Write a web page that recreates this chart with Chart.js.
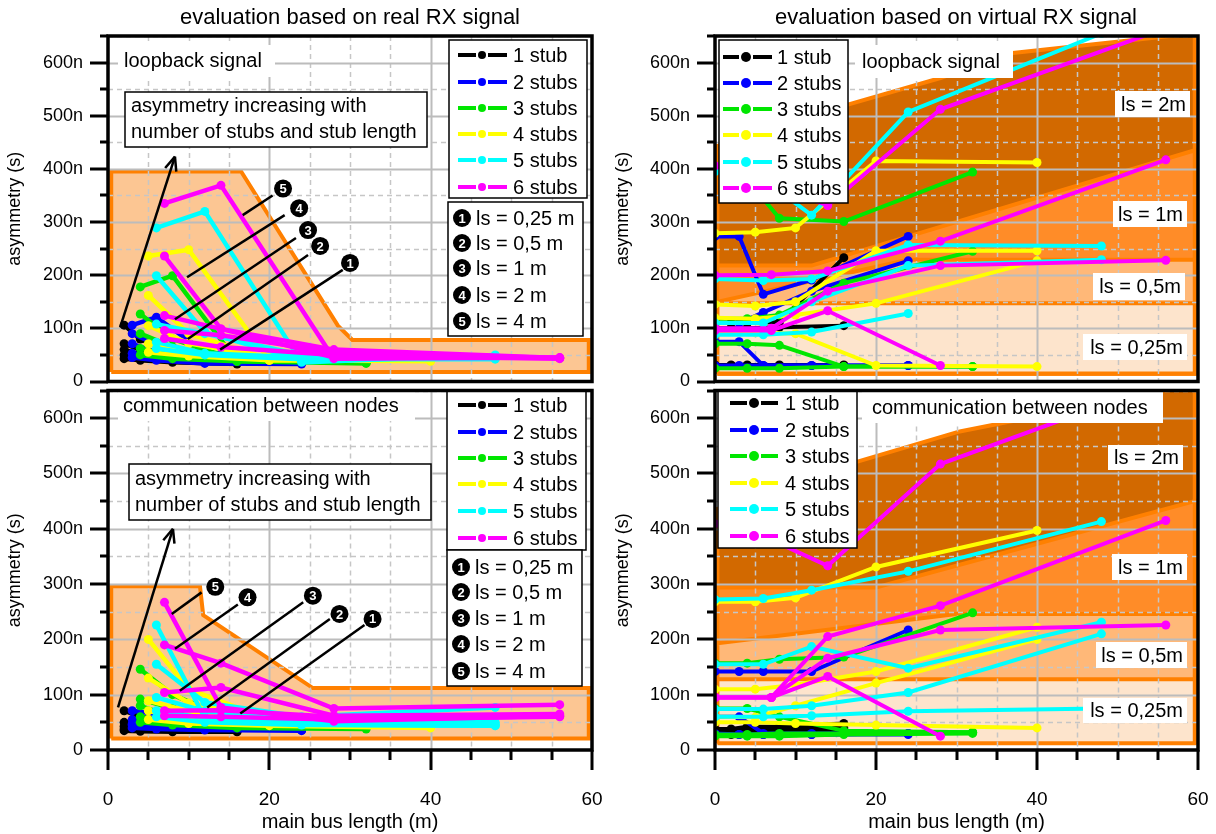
<!DOCTYPE html>
<html>
<head>
<meta charset="utf-8">
<script src="https://cdn.jsdelivr.net/npm/chart.js@4.4.1/dist/chart.umd.min.js"></script>
<style>
    body { margin: 0; background: #fff; width: 1216px; height: 834px; position: relative; overflow: hidden; }
    canvas { position: absolute; }
</style>
</head>
<body>
<canvas id="tl" width="608" height="386" style="left:0;top:0"></canvas>
<canvas id="bl" width="608" height="448" style="left:0;top:386px"></canvas>
<canvas id="tr" width="608" height="386" style="left:608px;top:0"></canvas>
<canvas id="br" width="608" height="448" style="left:608px;top:386px"></canvas>
<script>
var stubNames = ['1 stub', '2 stubs', '3 stubs', '4 stubs', '5 stubs', '6 stubs'];
var stubColors = ['#000000', '#0000ff', '#00e600', '#ffff00', '#00ffff', '#ff00ff'];
var lsNames = ['ls = 0,25 m', 'ls = 0,5 m', 'ls = 1 m', 'ls = 2 m', 'ls = 4 m'];
var yTicks = [0, 100, 200, 300, 400, 500, 600];
var xTicks = [0, 20, 40, 60];

// main bus length per stub count
var busLenReal = [[2, 4, 8, 16], [3, 6, 12, 24], [4, 8, 16, 32], [5, 10, 20, 40], [6, 12, 24, 48], [7, 14, 28, 56]];
var busLenVirtual = [[0, 2, 4, 8, 16], [0, 3, 6, 12, 24], [0, 4, 8, 16, 32], [0, 5, 10, 20, 40], [0, 6, 12, 24, 48], [0, 7, 14, 28, 56]];

// asymmetry in ns, rows = 1..6 stubs
var loopRealLs025 = [[43, 40, 36, 33], [45, 40, 34, 33], [50, 43, 38, 34], [55, 48, 40, 38], [62, 50, 42, 42], [81, 65, 50, 43]];
var loopRealLs05 = [[50, 43, 38, 35], [53, 45, 38, 35], [62, 50, 40, 36], [71, 55, 42, 40], [74, 53, 45, 45], [96, 87, 55, 44]];
var loopRealLs1 = [[60, 50, 42, 38], [71, 55, 40, 36], [90, 65, 42, 36], [105, 72, 45, 42], [108, 90, 50, 46], [124, 99, 60, 44]];
var loopRealLs2 = [[71, 60, 45, 40], [90, 70, 45, 38], [127, 80, 40, 36], [162, 90, 42, 42], [199, 93, 40, 48], [236, 99, 45, 44]];
var loopRealLs4 = [[106, 80, 55, 42], [106, 121, 55, 40], [178, 199, 38, 36], [236, 248, 40, 42], [289, 320, 36, 50], [335, 369, 43, 45]];

var commRealLs025 = [[35, 34, 33, 33], [40, 38, 36, 35], [50, 45, 40, 38], [55, 48, 44, 40], [60, 50, 45, 44], [62, 60, 55, 60]];
var commRealLs05 = [[38, 36, 35, 34], [45, 40, 38, 36], [60, 50, 45, 40], [71, 55, 48, 42], [71, 58, 50, 46], [71, 72, 60, 62]];
var commRealLs1 = [[43, 40, 38, 36], [47, 44, 40, 37], [80, 60, 48, 42], [89, 70, 50, 45], [95, 70, 55, 50], [104, 113, 62, 65]];
var commRealLs2 = [[50, 45, 40, 38], [55, 48, 42, 38], [92, 75, 50, 45], [130, 85, 55, 48], [155, 86, 60, 77], [190, 157, 75, 82]];
var commRealLs4 = [[71, 60, 50, 40], [71, 65, 50, 40], [146, 100, 50, 45], [200, 110, 55, 48], [226, 58, 46, 44], [267, 77, 52, 62]];

var loopVirtLs025 = [[30, 30, 30, 30, 30], [30, 30, 30, 30, 30], [25, 25, 25, 28, 28], [92, 92, 90, 30, 28], [88, 88, 93, 128, null], [96, 96, 133, 30, null]];
var loopVirtLs05 = [[31, 31, 31, 31, 31], [75, 75, 30, 30, 30], [71, 71, 68, 28, 28], [120, 118, 125, 147, 227], [110, 110, 150, 218, 229], [100, 100, 170, 218, 228]];
var loopVirtLs1 = [[100, 100, 100, 102, 105], [110, 110, 130, 170, 227], [118, 118, 125, 185, 245], [145, 142, 150, 246, 246], [193, 190, 193, 257, 255], [200, 201, 208, 264, 417]];
var loopVirtLs2 = [[110, 110, 110, 112, 233], [273, 273, 164, 191, 273], [400, 380, 307, 301, 394], [279, 281, 289, 415, 412], [395, 380, 313, 507, 655], [406, 370, 331, 512, 665]];

var commVirtLs025 = [[28, 28, 30, 32, 36], [28, 28, 28, 28, 28], [25, 25, 25, 28, 30], [50, 50, 48, 45, 40], [60, 60, 62, 70, 75], [95, 95, 133, 25, null]];
var commVirtLs05 = [[30, 30, 32, 34, 40], [30, 28, 28, 28, 30], [28, 28, 30, 30, 32], [60, 59, 80, 121, 200], [74, 74, 80, 104, 210], [95, 95, 166, 217, 226]];
var commVirtLs1 = [[34, 34, 36, 38, 45], [60, 60, 30, 30, 30], [75, 75, 60, 35, 32], [110, 110, 118, 142, 222], [155, 155, 187, 148, 231], [95, 95, 205, 261, 415]];
var commVirtLs2 = [[38, 38, 42, 42, 48], [142, 142, 142, 142, 217], [157, 157, 164, 168, 248], [268, 268, 275, 331, 397], [272, 274, 289, 323, 413], [409, 380, 333, 517, 665]];

// shaded regions (outline points)
var realLoopBandX = [0.4, 0.4, 16.5, 28.5, 30.3, 59.6, 59.6, 0.4];
var realLoopBandY = [18, 395, 395, 105, 78, 78, 18, 18];
var realCommBandX = [0.4, 0.4, 11.4, 11.8, 25.4, 59.6, 59.6, 0.4];
var realCommBandY = [21, 296, 296, 244, 112, 112, 21, 21];

var virtLoopBand2X = [0.3, 0.3, 16.5, 28, 37, 59.6, 59.6, 0.3];
var virtLoopBand2Y = [15, 443, 521, 571, 618, 655, 15, 15];
var virtLoopBand1X = [0.3, 0.3, 12, 59.6, 59.6, 0.3];
var virtLoopBand1Y = [15, 218, 218, 435, 15, 15];
var virtLoopBand05X = [0.3, 0.3, 24, 59.6, 59.6, 0.3];
var virtLoopBand05Y = [15, 150, 229, 229, 15, 15];
var virtLoopBand025X = [0.3, 0.3, 59.6, 59.6, 0.3];
var virtLoopBand025Y = [15, 147, 147, 15, 15];

var virtCommBand2X = [0.3, 0.3, 17.6, 30.4, 59.6, 59.6, 0.3];
var virtCommBand2Y = [15, 436, 521, 576, 660, 15, 15];
var virtCommBand1X = [0.3, 0.3, 20, 59.6, 59.6, 0.3];
var virtCommBand1Y = [15, 294, 294, 450, 15, 15];
var virtCommBand05X = [0.3, 0.3, 30, 59.6, 59.6, 0.3];
var virtCommBand05Y = [15, 193, 246, 246, 15, 15];
var virtCommBand025X = [0.3, 0.3, 59.6, 59.6, 0.3];
var virtCommBand025Y = [12, 128, 128, 12, 12];

var FONT = '"Liberation Sans", Arial, sans-serif';
var ORANGE = '#ff8000';

function buildSeries(xs, sets, lw, pr) {
    var out = [];
    sets.forEach(function (set) {
        set.forEach(function (vals, i) {
            out.push({
                data: xs[i].map(function (x, k) { return { x: x, y: vals[k] }; }),
                borderColor: stubColors[i],
                backgroundColor: stubColors[i],
                pointBackgroundColor: stubColors[i],
                pointBorderWidth: 0,
                borderWidth: lw,
                pointRadius: pr,
                order: 10 - i,
                fill: false,
                tension: 0
            });
        });
    });
    return out;
}

function buildBands(list) {
    return list.map(function (b, k) {
        return {
            isBand: true,
            data: b[0].map(function (x, i) { return { x: x, y: b[1][i] }; }),
            fill: 'shape',
            backgroundColor: b[2],
            borderColor: ORANGE,
            borderWidth: 4,
            pointRadius: 0,
            order: 100 - k,
            tension: 0
        };
    });
}

function drawGrid(chart) {
    var ctx = chart.ctx, a = chart.chartArea, sx = chart.scales.x, sy = chart.scales.y;
    ctx.save();
    ctx.beginPath();
    ctx.rect(a.left, a.top, a.right - a.left, a.bottom - a.top);
    ctx.clip();
    var v, p, major;
    for (v = 5; v < 60; v += 5) {
        p = Math.round(sx.getPixelForValue(v)) + 0.5;
        major = v % 20 === 0;
        ctx.setLineDash(major ? [] : [5, 4]);
        ctx.strokeStyle = major ? '#bcbcbc' : '#c6c6c6';
        ctx.lineWidth = major ? 2 : 1.5;
        ctx.beginPath(); ctx.moveTo(p, a.top); ctx.lineTo(p, a.bottom); ctx.stroke();
    }
    for (v = 50; v <= 650; v += 50) {
        p = Math.round(sy.getPixelForValue(v)) + 0.5;
        major = v % 100 === 0;
        ctx.setLineDash(major ? [] : [5, 4]);
        ctx.strokeStyle = major ? '#bcbcbc' : '#c6c6c6';
        ctx.lineWidth = major ? 2 : 1.5;
        ctx.beginPath(); ctx.moveTo(a.left, p); ctx.lineTo(a.right, p); ctx.stroke();
    }
    ctx.restore();
}

function drawFrame(chart, withX) {
    var ctx = chart.ctx, a = chart.chartArea, sx = chart.scales.x, sy = chart.scales.y;
    ctx.save();
    ctx.strokeStyle = '#000';
    ctx.lineWidth = 3;
    var v, p, len;
    for (v = 0; v <= 650; v += 50) {
        p = Math.round(sy.getPixelForValue(v));
        len = v % 100 === 0 ? 18 : 8;
        ctx.beginPath(); ctx.moveTo(a.left - len, p); ctx.lineTo(a.left, p); ctx.stroke();
    }
    if (withX) {
        for (v = 0; v <= 60; v += 5) {
            p = Math.round(sx.getPixelForValue(v));
            len = v % 20 === 0 ? 20 : 10;
            ctx.beginPath(); ctx.moveTo(p, a.bottom); ctx.lineTo(p, a.bottom + len); ctx.stroke();
        }
    }
    ctx.lineWidth = 3.5;
    ctx.strokeRect(a.left, a.top, a.right - a.left, a.bottom - a.top);
    ctx.restore();
}

// helpers working in page coordinates
function textAt(ctx, s, x, y, size, align) {
    ctx.font = size + 'px ' + FONT;
    ctx.fillStyle = '#000';
    ctx.textAlign = align || 'left';
    ctx.textBaseline = 'middle';
    ctx.fillText(s, x, y);
}

function whiteBox(ctx, x0, y0, x1, y1, border) {
    ctx.fillStyle = '#fff';
    ctx.fillRect(x0, y0, x1 - x0, y1 - y0);
    if (border) {
        ctx.strokeStyle = '#000';
        ctx.lineWidth = 1.5;
        ctx.strokeRect(x0, y0, x1 - x0, y1 - y0);
    }
}

function numberBadge(ctx, n, x, y) {
    ctx.fillStyle = '#000';
    ctx.beginPath(); ctx.arc(x, y, 9, 0, Math.PI * 2); ctx.fill();
    ctx.font = 'bold 13px ' + FONT;
    ctx.fillStyle = '#fff';
    ctx.textAlign = 'center';
    ctx.textBaseline = 'middle';
    ctx.fillText(String(n), x, y + 1);
}

function seg(ctx, p, q, w) {
    ctx.strokeStyle = '#000';
    ctx.lineWidth = w;
    ctx.beginPath(); ctx.moveTo(p[0], p[1]); ctx.lineTo(q[0], q[1]); ctx.stroke();
}

function arrow(ctx, p, q) {
    seg(ctx, p, q, 2.5);
    var ang = Math.atan2(q[1] - p[1], q[0] - p[0]);
    [-0.4, 0.4].forEach(function (d) {
        seg(ctx, q, [q[0] - 15 * Math.cos(ang + d), q[1] - 15 * Math.sin(ang + d)], 2.5);
    });
}

function stubLegend(ctx, box, rows, x0, x1, xm, tx, size, lw, r) {
    whiteBox(ctx, box[0], box[1], box[2], box[3], true);
    rows.forEach(function (y, i) {
        ctx.strokeStyle = stubColors[i];
        ctx.lineWidth = lw;
        ctx.beginPath(); ctx.moveTo(x0, y); ctx.lineTo(xm - r - 2, y); ctx.moveTo(xm + r + 2, y); ctx.lineTo(x1, y); ctx.stroke();
        ctx.fillStyle = stubColors[i];
        ctx.beginPath(); ctx.arc(xm, y, r, 0, Math.PI * 2); ctx.fill();
        textAt(ctx, stubNames[i], tx, y + 1, size);
    });
}

function lsLegend(ctx, box, rows, bx, tx) {
    whiteBox(ctx, box[0], box[1], box[2], box[3], true);
    rows.forEach(function (y, i) {
        numberBadge(ctx, i + 1, bx, y);
        textAt(ctx, lsNames[i], tx, y + 1, 20);
    });
}

function decoPlugin(ox, oy, withX, draw) {
    return {
        id: 'deco',
        beforeDatasetsDraw: function (chart) { chart.$gridDone = false; },
        beforeDatasetDraw: function (chart, args) {
            if (chart.$gridDone || chart.data.datasets[args.index].isBand) return;
            drawGrid(chart);
            chart.$gridDone = true;
        },
        afterDatasetsDraw: function (chart) {
            var ctx = chart.ctx, sx = chart.scales.x, sy = chart.scales.y;
            var P = function (xv, yv) { return [sx.getPixelForValue(xv) + ox, sy.getPixelForValue(yv) + oy]; };
            ctx.save();
            ctx.translate(-ox, -oy);
            draw(ctx, P);
            ctx.restore();
            drawFrame(chart, withX);
        }
    };
}

function makeChart(id, datasets, bottom, yWidth, padding, plugin) {
    var xScale = { type: 'linear', min: 0, max: 60, display: false };
    if (bottom) {
        xScale = {
            type: 'linear', min: 0, max: 60,
            ticks: { stepSize: 20, autoSkip: false, padding: 20, color: '#000', font: { size: 19, family: FONT } },
            grid: { display: false, drawTicks: true, tickLength: 18 },
            border: { display: false },
            title: { display: true, text: 'main bus length (m)', color: '#000', font: { size: 20, family: FONT }, padding: { top: 0, bottom: 0 } },
            afterFit: function (s) { s.height = 84; s.paddingLeft = 0; s.paddingRight = 0; }
        };
    }
    return new Chart(document.getElementById(id).getContext('2d'), {
        type: 'line',
        data: { datasets: datasets },
        options: {
            responsive: false,
            animation: false,
            events: [],
            layout: { padding: padding },
            plugins: { legend: { display: false }, tooltip: { enabled: false } },
            scales: {
                x: xScale,
                y: {
                    type: 'linear', min: 0, max: 650,
                    ticks: {
                        stepSize: 50, autoSkip: false, includeBounds: false, padding: 7, color: '#000',
                        font: { size: 18, family: FONT },
                        callback: function (v) {
                            if (yTicks.indexOf(v) < 0) return '';
                            return v === 0 ? '0' : v + 'n';
                        }
                    },
                    grid: { display: false, drawTicks: true, tickLength: 18 },
                    border: { display: false },
                    title: { display: true, text: 'asymmetry (s)', color: '#000', font: { size: 18, family: FONT }, padding: { top: 4, bottom: 0 } },
                    afterFit: function (s) { s.width = yWidth; s.paddingTop = 0; s.paddingBottom = 0; }
                }
            }
        },
        plugins: [plugin]
    });
}

var PEACH = '#fcc693', DARK = '#d26900', MID = '#ff8c28', LIGHT = '#ffb878', PALE = '#fde4cc';

// top left: loopback, real RX
makeChart('tl',
    buildBands([[realLoopBandX, realLoopBandY, PEACH]]).concat(
        buildSeries(busLenReal, [loopRealLs025, loopRealLs05, loopRealLs1, loopRealLs2, loopRealLs4], 4.5, 4.5)),
    false, 108, { top: 36, right: 16, bottom: 1, left: 0 },
    decoPlugin(0, 0, false, function (ctx, P) {
        textAt(ctx, 'evaluation based on real RX signal', 350, 18, 22, 'center');
        whiteBox(ctx, 118, 45, 275, 77, false);
        textAt(ctx, 'loopback signal', 124, 61, 20);
        arrow(ctx, P(1.5, 102), P(8.3, 423));
        whiteBox(ctx, 125, 92, 427, 147, true);
        textAt(ctx, 'asymmetry increasing with', 131, 106, 20);
        textAt(ctx, 'number of stubs and stub length', 131, 132, 20);
        seg(ctx, P(20.4, 350), P(16.7, 313), 2.5); numberBadge(ctx, 5, P(21.7, 363)[0], P(21.7, 363)[1]);
        seg(ctx, P(21.9, 313), P(9.8, 196), 2.5); numberBadge(ctx, 4, P(23.7, 326)[0], P(23.7, 326)[1]);
        seg(ctx, P(23.3, 270), P(8.3, 117), 2.5); numberBadge(ctx, 3, P(24.8, 285)[0], P(24.8, 285)[1]);
        seg(ctx, P(24.8, 238), P(9.9, 80), 2.5); numberBadge(ctx, 2, P(26.3, 255)[0], P(26.3, 255)[1]);
        seg(ctx, P(29.1, 210), P(13.9, 60), 2.5); numberBadge(ctx, 1, P(30, 223)[0], P(30, 223)[1]);
        stubLegend(ctx, [449, 40, 587, 198], [55, 82, 108, 134, 160, 187], 458, 507, 482, 513, 20, 4, 4);
        lsLegend(ctx, [448, 202, 583, 336], [218, 243, 268, 295, 321], 462, 476);
    }));

// bottom left: communication, real RX
makeChart('bl',
    buildBands([[realCommBandX, realCommBandY, PEACH]]).concat(
        buildSeries(busLenReal, [commRealLs025, commRealLs05, commRealLs1, commRealLs2, commRealLs4], 4.5, 4.5)),
    true, 108, { top: 1, right: 16, bottom: 0, left: 0 },
    decoPlugin(0, 386, true, function (ctx, P) {
        whiteBox(ctx, 118, 391, 415, 421, false);
        textAt(ctx, 'communication between nodes', 123, 406, 20);
        arrow(ctx, P(1.24, 77), P(8.05, 400));
        whiteBox(ctx, 129, 464, 431, 520, true);
        textAt(ctx, 'asymmetry increasing with', 135, 479, 20);
        textAt(ctx, 'number of stubs and stub length', 135, 505, 20);
        seg(ctx, P(11.6, 285), P(7.9, 246), 2.5); numberBadge(ctx, 5, P(13.3, 295)[0], P(13.3, 295)[1]);
        seg(ctx, P(16.1, 263), P(8.3, 183), 2.5); numberBadge(ctx, 4, P(17.3, 276)[0], P(17.3, 276)[1]);
        seg(ctx, P(24.2, 267), P(8.9, 107), 2.5); numberBadge(ctx, 3, P(25.4, 279)[0], P(25.4, 279)[1]);
        seg(ctx, P(27.5, 237), P(12.3, 77), 2.5); numberBadge(ctx, 2, P(28.7, 246)[0], P(28.7, 246)[1]);
        seg(ctx, P(31.8, 226), P(16.4, 66), 2.5); numberBadge(ctx, 1, P(32.8, 237)[0], P(32.8, 237)[1]);
        stubLegend(ctx, [447, 390, 586, 550], [405, 432, 458, 484, 511, 538], 458, 507, 482, 513, 20, 4, 4);
        lsLegend(ctx, [447, 550, 582, 686], [567, 592, 618, 644, 671], 461, 475);
    }));

function lsBoxes(ctx, boxes) {
    var names = ['ls = 2m', 'ls = 1m', 'ls = 0,5m', 'ls = 0,25m'];
    boxes.forEach(function (b, i) {
        whiteBox(ctx, b[0], b[1], b[2], b[3], false);
        textAt(ctx, names[i], b[2] - 4, (b[1] + b[3]) / 2 + 1, 20, 'right');
    });
}

// top right: loopback, virtual RX
makeChart('tr',
    buildBands([[virtLoopBand2X, virtLoopBand2Y, DARK], [virtLoopBand1X, virtLoopBand1Y, MID],
        [virtLoopBand05X, virtLoopBand05Y, LIGHT], [virtLoopBand025X, virtLoopBand025Y, PALE]]).concat(
        buildSeries(busLenVirtual, [loopVirtLs025, loopVirtLs05, loopVirtLs1, loopVirtLs2], 4, 4.5)),
    false, 107, { top: 36, right: 18, bottom: 1, left: 0 },
    decoPlugin(608, 0, false, function (ctx, P) {
        textAt(ctx, 'evaluation based on virtual RX signal', 956, 18, 22, 'center');
        whiteBox(ctx, 855, 45, 1013, 78, false);
        textAt(ctx, 'loopback signal', 862, 62, 20);
        lsBoxes(ctx, [[1115, 91, 1190, 117], [1113, 201, 1187, 227], [1093, 273, 1185, 300], [1083, 334, 1187, 360]]);
        stubLegend(ctx, [719, 40, 848, 203], [57, 83, 109, 135, 162, 188], 723, 772, 746, 777, 20, 4, 5);
    }));

// bottom right: communication, virtual RX
makeChart('br',
    buildBands([[virtCommBand2X, virtCommBand2Y, DARK], [virtCommBand1X, virtCommBand1Y, MID],
        [virtCommBand05X, virtCommBand05Y, LIGHT], [virtCommBand025X, virtCommBand025Y, PALE]]).concat(
        buildSeries(busLenVirtual, [commVirtLs025, commVirtLs05, commVirtLs1, commVirtLs2], 4, 4.5)),
    true, 107, { top: 1, right: 18, bottom: 0, left: 0 },
    decoPlugin(608, 386, true, function (ctx, P) {
        whiteBox(ctx, 862, 391, 1163, 423, false);
        textAt(ctx, 'communication between nodes', 872, 408, 20);
        lsBoxes(ctx, [[1108, 445, 1183, 470], [1112, 554, 1187, 580], [1096, 642, 1187, 668], [1083, 698, 1187, 723]]);
        stubLegend(ctx, [718, 390, 857, 548], [403, 430, 456, 483, 509, 536], 730, 778, 754, 785, 20, 4, 5);
    }));
</script>
</body>
</html>
